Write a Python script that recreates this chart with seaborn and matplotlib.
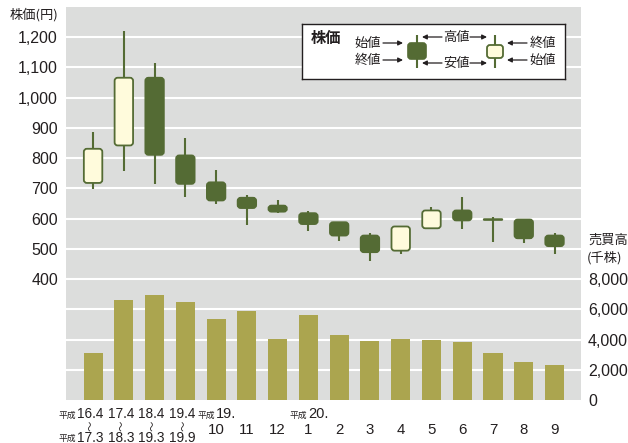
import numpy as np
import pandas as pd
import matplotlib
matplotlib.use("Agg")
import matplotlib.pyplot as plt
from matplotlib import font_manager
import seaborn as sns
from matplotlib.patches import FancyBboxPatch
from matplotlib.transforms import blended_transform_factory

# ---------------- data ----------------
range_start = ["平成16.4", "17.4", "18.4", "19.4"]
range_end = ["平成17.3", "18.3", "19.3", "19.9"]
month_labels = ["10", "11", "12", "1", "2", "3", "4", "5", "6", "7", "8", "9"]
era_prefix = {0: "平成19.", 3: "平成20."}   # month index -> era label above

open_price = [718, 842, 1066, 809, 720, 669, 643, 618, 588, 544, 494, 568, 627, 598, 597, 544]
close_price = [831, 1066, 811, 715, 660, 635, 623, 582, 544, 489, 574, 627, 594, 596, 535, 509]
high_price = [886, 1222, 1115, 866, 761, 679, 662, 624, 590, 552, 577, 640, 671, 604, 597, 553]
low_price = [698, 756, 715, 671, 649, 579, 618, 560, 527, 459, 483, 564, 566, 524, 520, 483]
volume = [3140, 6630, 6960, 6500, 5380, 5910, 4060, 5640, 4320, 3930, 4060, 3990, 3860, 3140, 2540, 2340]

price_ticks = list(range(100, 1300, 100))
price_label_min = 400
volume_ticks = [0, 2000, 4000, 6000, 8000]

periods = [f"{s}〜{e}" for s, e in zip(range_start, range_end)] + [f"m{m}" for m in month_labels]
df = pd.DataFrame({"period": periods, "volume": volume})

# ---------------- style ----------------
TXT = "#231f20"
BG = "#dcdddc"
DARK = "#546b34"
LIGHT = "#fffbdc"
BAR = "#aba54f"
NUM_FONT = ["Liberation Sans", "DejaVu Sans"]
JP_FONT = ["Noto Sans CJK JP", "DejaVu Sans"]

# condensed face for the x labels if available
try:
    font_manager.findfont(font_manager.FontProperties(family="Liberation Sans Narrow"),
                          fallback_to_default=False)
    XL_FONT, XL_SIZE, M_SIZE = ["Liberation Sans Narrow", "DejaVu Sans"], 11.5, 12
except Exception:
    XL_FONT, XL_SIZE, M_SIZE = ["Liberation Sans", "DejaVu Sans"], 9.8, 10.8

plt.rcParams["font.family"] = ["Liberation Sans", "Noto Sans CJK JP", "DejaVu Sans"]
plt.rcParams["text.color"] = TXT

W, H = 628, 443
fig = plt.figure(figsize=(W / 100, H / 100), dpi=100)
L, R, T, B = 66, 581, 7, 400
ax1 = fig.add_axes([L / W, 1 - B / H, (R - L) / W, (B - T) / H])
ax2 = ax1.twinx()

# volume bars (right axis)
sns.barplot(data=df, x="period", y="volume", order=periods, color=BAR, saturation=1,
            width=0.62, errorbar=None, ax=ax2, zorder=2)

XMIN, XMAX = -0.88, 15.86
YMAX = 1300
ax1.set_xlim(XMIN, XMAX)
ax1.set_ylim(0, YMAX)
ax2.set_ylim(0, YMAX * 20)

ax1.set_facecolor(BG)
ax2.set_facecolor("none")
for a in (ax1, ax2):
    for s in a.spines.values():
        s.set_visible(False)
    a.set_xlabel("")
    a.set_ylabel("")
    a.tick_params(axis="x", bottom=False, labelbottom=False, top=False)

ax1.set_yticks(price_ticks)
ax1.set_yticklabels([f"{v:,}" if v >= price_label_min else "" for v in price_ticks],
                    fontsize=11.5, color=TXT, family=NUM_FONT)
ax1.tick_params(axis="y", length=0, pad=5.8)
ax1.grid(axis="y", color="white", lw=1.5)
ax1.grid(axis="x", visible=False)
ax1.set_axisbelow(True)

ax2.set_yticks(volume_ticks)
ax2.set_yticklabels([f"{v:,}" for v in volume_ticks], fontsize=11.5, color=TXT, family=NUM_FONT)
ax2.tick_params(axis="y", length=0, pad=5)
ax2.grid(False)

# candlesticks (left axis)
x = np.arange(len(open_price))
ax1.vlines(x, low_price, high_price, color=DARK, lw=1.5, zorder=3)
px_per_x = (R - L) / (XMAX - XMIN)
px_per_y = (B - T) / YMAX
aspect = px_per_x / px_per_y
bw = 0.6
for i in x:
    o, c = open_price[i], close_price[i]
    bot, h = min(o, c), abs(c - o)
    r = min(0.1, h / 2 / aspect)
    fc = LIGHT if c > o else DARK
    ax1.add_patch(FancyBboxPatch((i - bw / 2, bot), bw, h,
                                 boxstyle=f"round,pad=0,rounding_size={r}",
                                 mutation_aspect=aspect, fc=fc, ec=DARK, lw=1.3, zorder=4))

# ---------------- x labels ----------------
trans = blended_transform_factory(ax1.transData, fig.transFigure)


def fy(py):
    return 1 - py / H


def label(xpos, py, s, ha="center", size=XL_SIZE):
    if s.startswith("平成"):
        t = ax1.text(xpos, fy(py), s[2:], ha=ha, va="center", transform=trans,
                     fontsize=size, family=XL_FONT, clip_on=False)
        ax1.annotate("平成", xy=(0, 0.42), xycoords=t, xytext=(-0.5, 0),
                     textcoords="offset points", ha="right", va="center",
                     fontsize=6.3, family=JP_FONT, annotation_clip=False)
    else:
        ax1.text(xpos, fy(py), s, ha=ha, va="center", transform=trans,
                 fontsize=size, family=XL_FONT, clip_on=False)


for i, (s, e) in enumerate(zip(range_start, range_end)):
    label(i - 0.1, 414.5, s)
    ax1.text(i - 0.1, fy(426), "〜", rotation=90, ha="center", va="center",
             transform=trans, fontsize=7.5, family=JP_FONT, clip_on=False)
    label(i - 0.1, 437.5, e)

n0 = len(range_start)
for j, m in enumerate(month_labels):
    label(n0 + j, 430, m, size=M_SIZE)
    if j in era_prefix:
        label(n0 + j - 0.02, 414.5, era_prefix[j], ha="left", size=M_SIZE - 0.3)

# axis titles
fig.text(10 / W, fy(14.5), "株価(円)", ha="left", va="center", fontsize=9.5, family=JP_FONT)
fig.text(588 / W, fy(240), "売買高", ha="left", va="center", fontsize=9.5, family=JP_FONT)
fig.text(587 / W, fy(258), "(千株)", ha="left", va="center", fontsize=9.5, family=JP_FONT)

# ---------------- legend key ----------------
lx0, lx1, ly0, ly1 = 302, 565, 24, 79
lax = fig.add_axes([lx0 / W, 1 - ly1 / H, (lx1 - lx0) / W, (ly1 - ly0) / H], zorder=10)
lax.set_xlim(lx0, lx1)
lax.set_ylim(ly1, ly0)
lax.set_xticks([])
lax.set_yticks([])
lax.set_facecolor("white")
for s in lax.spines.values():
    s.set_color("#231f20")
    s.set_linewidth(1.0)

lax.text(311, 38, "株価", ha="left", va="center", fontsize=11, fontweight="bold", family=JP_FONT)


def arrow(x_from, x_to, y):
    lax.annotate("", xy=(x_to, y), xytext=(x_from, y),
                 arrowprops=dict(arrowstyle="-|>", color=TXT, lw=0.9,
                                 mutation_scale=7, shrinkA=0, shrinkB=0))


def key_text(xc, y, s):
    lax.text(xc, y, s, ha="center", va="center", fontsize=9.5, family=JP_FONT)


# dark candle
lax.vlines(417, 35, 68, color=DARK, lw=1.5)
lax.add_patch(FancyBboxPatch((408, 43), 18, 16, boxstyle="round,pad=0,rounding_size=3",
                             fc=DARK, ec=DARK, lw=1.2, zorder=3))
key_text(368, 43, "始値")
key_text(368, 60, "終値")
arrow(383, 403, 43)
arrow(383, 403, 60)
# light candle
lax.vlines(495, 35, 68, color=DARK, lw=1.5)
lax.add_patch(FancyBboxPatch((487, 45), 16, 13, boxstyle="round,pad=0,rounding_size=3",
                             fc=LIGHT, ec=DARK, lw=1.3, zorder=3))
key_text(543, 43, "終値")
key_text(543, 60, "始値")
arrow(527, 507, 43)
arrow(527, 507, 60)
# high / low
key_text(456, 37, "高値")
key_text(456, 63, "安値")
for yy in (37, 63):
    arrow(442, 422, yy)
    arrow(470, 487, yy)

fig.savefig("out.png", dpi=100)
